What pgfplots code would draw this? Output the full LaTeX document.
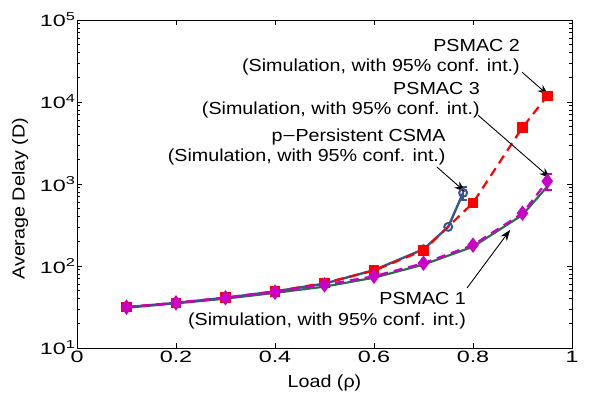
\documentclass[border=0pt]{standalone}
\usepackage{fontspec}
\setmainfont[FakeStretch=1.13]{Liberation Sans}
\newfontfamily\tickfont[FakeStretch=1.42]{Liberation Sans}
\usepackage{pgfplots}
\pgfplotsset{compat=1.18}
\usetikzlibrary{arrows.meta}
\definecolor{cblue}{RGB}{55,85,145}
\definecolor{cgreen}{RGB}{45,110,70}
\definecolor{cmag}{RGB}{200,0,200}
\definecolor{cred}{RGB}{255,0,0}
\begin{document}
\begin{tikzpicture}
\begin{axis}[name=ax, scale only axis, width=495bp, height=328bp,
  xmin=0, xmax=1, ymode=log, ymin=10, ymax=100000,
  xtick={0,0.2,0.4,0.6,0.8,1}, xticklabels={0,0.2,0.4,0.6,0.8,1},
  ytick={10,100,1000,10000,100000},
  yticklabels={10\textsuperscript{1},10\textsuperscript{2},10\textsuperscript{3},10\textsuperscript{4},10\textsuperscript{5}},
  tick align=inside, tick pos=both, major tick length=5bp, minor tick length=3bp,
  ticklabel style={font=\fontsize{16.5}{16.5}\tickfont},
  yticklabel style={xshift=2bp},
  xlabel={Load (ρ)}, ylabel={Average Delay (D)},
  every axis x label/.style={at={([yshift=-35bp]rel axis cs:0.5,0)}, anchor=center, font=\fontsize{17.5}{18}\selectfont},
  every axis y label/.style={at={([xshift=-57bp]rel axis cs:0,0.455)}, rotate=90, anchor=center, font=\fontsize{17.5}{18}\selectfont},
  axis line style={line width=0.8pt},
  every tick/.style={black, line width=0.6pt},
]
\addplot[cgreen, line width=2.2pt] coordinates {
(0.1,31) (0.2,35) (0.3,40) (0.4,47) (0.5,56) (0.6,72) (0.7,104) (0.8,172) (0.9,420) (0.95,930)};
\addplot[cblue, line width=2.4pt, mark=o, mark size=4pt, mark options={solid, line width=2pt},
  error bars/.cd, y dir=both, y explicit, error bar style={line width=2pt}, error mark options={rotate=90, mark size=3.5pt, line width=2pt}]
 coordinates {
(0.1,31.5) (0.2,35.5) (0.3,41) (0.4,49) (0.5,61) (0.6,89) (0.7,160) (0.75,300) (0.78,780) +- (0,150)};
\addplot[cred, line width=2.2pt, dash pattern=on 9bp off 6bp, mark=square*, mark size=4.2pt, mark options={solid}] coordinates {
(0.1,31.5) (0.2,35.5) (0.3,41) (0.4,49) (0.5,62) (0.6,88) (0.7,155) (0.8,590) (0.9,4900) (0.95,11800)};
\addplot[cmag, line width=2.2pt, dash pattern=on 9bp off 6bp, mark=diamond*, mark size=6pt, mark options={solid},
  error bars/.cd, y dir=both, y explicit, error bar style={line width=1.8pt, solid}, error mark options={rotate=90, mark size=4.5pt, line width=1.8pt}]
 coordinates {
(0.1,31.5) (0.2,35.5) (0.3,41) (0.4,48) (0.5,59) (0.6,75) (0.7,108) (0.8,180) (0.9,440) (0.95,1080) +- (0,230)};

\begin{scope}[every node/.style={font=\fontsize{17.5}{20.5}\selectfont, align=right, inner sep=0pt, anchor=east}]
\node at (rel axis cs:0.895,0.887) {PSMAC 2\\(Simulation, with 95\% conf. int.)};
\node at (rel axis cs:0.814,0.756) {PSMAC 3\\(Simulation, with 95\% conf. int.)};
\node at (rel axis cs:0.745,0.613) {p\raisebox{0.1ex}{\kern1pt--\kern1pt}Persistent CSMA\\(Simulation, with 95\% conf. int.)};
\node at (rel axis cs:0.786,0.113) {PSMAC 1\\(Simulation, with 95\% conf. int.)};
\end{scope}
\begin{scope}[line width=0.9pt, -{Stealth[length=11bp,width=8bp]}]
\draw (rel axis cs:0.899,0.841) -- (rel axis cs:0.952,0.771);
\draw (rel axis cs:0.810,0.710) -- (rel axis cs:0.956,0.518);
\draw (rel axis cs:0.727,0.552) -- (rel axis cs:0.784,0.476);
\draw (rel axis cs:0.788,0.183) -- (rel axis cs:0.875,0.360);
\end{scope}
\end{axis}
\pgfresetboundingbox
\path[use as bounding box] ([shift={(-77bp,-47bp)}]ax.south west) rectangle ([shift={(17bp,20bp)}]ax.north east);
\end{tikzpicture}
\end{document}
